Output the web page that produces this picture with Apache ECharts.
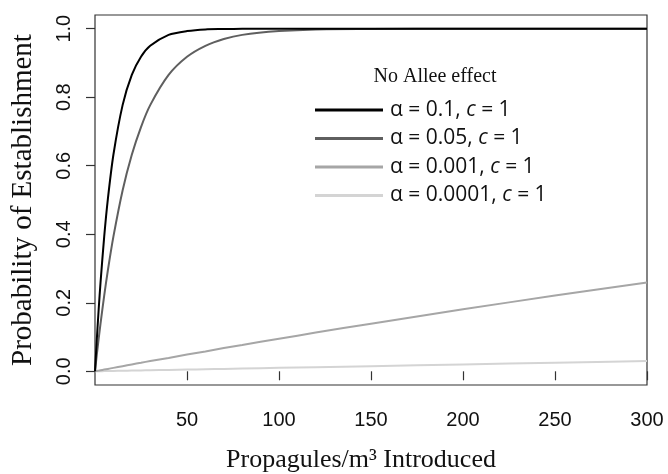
<!DOCTYPE html>
<html>
<head>
<meta charset="utf-8">
<script src="https://cdn.jsdelivr.net/npm/echarts@6/dist/echarts.min.js"></script>
<style>
  html, body { margin: 0; padding: 0; background: #fff; }
  #chart { width: 668px; height: 474px; }
</style>
</head>
<body>
<div id="chart"></div>
<script>
// Propagule pressure (individuals per m^3) at which establishment was evaluated
const propagules = [0, 1, 2, 3, 5, 7, 10, 15, 20, 25, 30, 40, 50, 60, 70, 80, 100, 120, 150, 200, 250, 300];

// Probability of establishment for each per-capita rate alpha (c = 1)
const pAlpha01    = [0, 0.095, 0.181, 0.259, 0.393, 0.503, 0.632, 0.777, 0.865, 0.918, 0.950, 0.982, 0.993, 0.998, 0.999, 1.000, 1.000, 1.000, 1.000, 1.000, 1.000, 1.000];
const pAlpha005   = [0, 0.049, 0.095, 0.139, 0.221, 0.295, 0.393, 0.528, 0.632, 0.713, 0.777, 0.865, 0.918, 0.950, 0.970, 0.982, 0.993, 0.998, 0.999, 1.000, 1.000, 1.000];
const pAlpha0001  = [0, 0.001, 0.002, 0.003, 0.005, 0.007, 0.010, 0.015, 0.020, 0.025, 0.030, 0.039, 0.049, 0.058, 0.068, 0.077, 0.095, 0.113, 0.139, 0.181, 0.221, 0.259];
const pAlpha00001 = [0, 0.0001, 0.0002, 0.0003, 0.0005, 0.0007, 0.001, 0.0015, 0.002, 0.0025, 0.003, 0.004, 0.005, 0.006, 0.007, 0.008, 0.010, 0.012, 0.015, 0.020, 0.025, 0.030];

const seriesNames = ['α = 0.1', 'α = 0.05', 'α = 0.001', 'α = 0.0001'];
const seriesValues = [pAlpha01, pAlpha005, pAlpha0001, pAlpha00001];
const seriesColors = ['#000000', '#5f5f5f', '#a6a6a6', '#d4d4d4'];

const xTicks = [50, 100, 150, 200, 250, 300];
const yTicks = [0, 0.2, 0.4, 0.6, 0.8, 1.0];

const legendTitle = 'No Allee effect';
const xTitle = 'Propagules/m³ Introduced';
const yTitle = 'Probability of Establishment';

const chart = echarts.init(document.getElementById('chart'), null, { renderer: 'canvas' });

const series = seriesNames.map((name, k) => ({
  name: name,
  type: 'line',
  data: propagules.map((x, i) => [x, seriesValues[k][i]]),
  smooth: 0.25,
  symbol: 'none',
  lineStyle: { color: seriesColors[k], width: 2 },
  itemStyle: { color: seriesColors[k] },
  z: 10 - k
}));

chart.setOption({
  animation: false,
  backgroundColor: '#ffffff',
  grid: {
    left: 95, right: 21, top: 15, bottom: 89,
    outerBoundsMode: 'none',
    containLabel: false,
    show: true, borderColor: '#333', borderWidth: 1.2, backgroundColor: 'transparent'
  },
  title: {
    text: legendTitle,
    left: 430, top: 62, textAlign: 'center',
    textStyle: { fontFamily: 'Liberation Serif', fontSize: 20, fontWeight: 'normal', color: '#111' }
  },
  legend: {
    orient: 'vertical',
    left: 310, top: 94,
    icon: 'rect',
    itemWidth: 68, itemHeight: 3, itemGap: 6.5,
    data: seriesNames.map((n, k) => ({
      name: n,
      itemStyle: { color: seriesColors[k] }
    })),
    formatter: n => n + ', {i|c} = 1',
    textStyle: {
      fontFamily: 'Open Sans', fontSize: 21, lineHeight: 22, color: '#111', padding: [0, 0, 0, 2],
      rich: { i: { fontFamily: 'Open Sans', fontSize: 21, lineHeight: 22, fontStyle: 'italic', color: '#111' } }
    },
    selectedMode: false
  },
  xAxis: {
    type: 'value',
    min: 0, max: 300,
    name: xTitle,
    nameLocation: 'middle',
    nameGap: 62,
    nameTextStyle: { fontFamily: 'Liberation Serif', fontSize: 26, color: '#111', padding: [0, 20, 0, 0] },
    axisLine: { show: false },
    splitLine: { show: false },
    axisTick: { show: true, customValues: xTicks, length: 9, lineStyle: { color: '#333', width: 1.2 } },
    axisLabel: {
      customValues: xTicks, margin: 25,
      fontFamily: 'Liberation Sans', fontSize: 20, color: '#111'
    }
  },
  yAxis: {
    type: 'value',
    min: -0.04, max: 1.04,
    name: yTitle,
    nameLocation: 'middle',
    nameGap: 57,
    nameRotate: 90,
    nameTextStyle: { fontFamily: 'Liberation Serif', fontSize: 29, color: '#111' },
    axisLine: { show: false },
    splitLine: { show: false },
    axisTick: { show: true, customValues: yTicks, length: 9, lineStyle: { color: '#333', width: 1.2 } },
    axisLabel: {
      customValues: yTicks, margin: 21, rotate: 90,
      formatter: v => v.toFixed(1),
      fontFamily: 'Liberation Sans', fontSize: 20, color: '#111',
      verticalAlign: 'bottom', align: 'center'
    }
  },
  series: series
});
</script>
</body>
</html>
